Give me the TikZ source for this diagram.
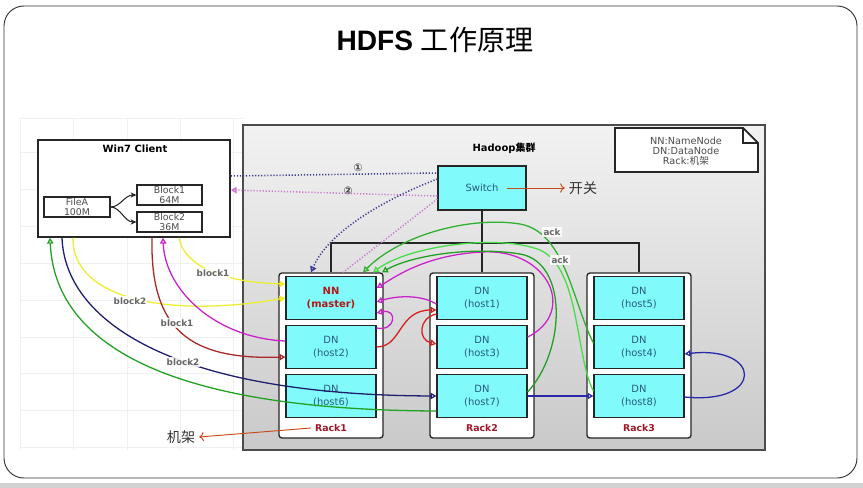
\documentclass[tikz,border=0pt]{standalone}
\usepackage{fontspec}
\setmainfont{DejaVu Sans}
\newfontfamily\cjk{Noto Sans CJK SC}
\newfontfamily\arialfont{Liberation Sans}
\usetikzlibrary{arrows.meta,calc}
\definecolor{cyanfill}{HTML}{80FAFA}
\definecolor{dntext}{HTML}{2A5C80}
\definecolor{nntext}{HTML}{B01818}
\definecolor{racktext}{HTML}{A01828}
\definecolor{cnavydot}{HTML}{3A3A90}
\definecolor{cpinkdot}{HTML}{CC77CC}
\definecolor{cyellow}{HTML}{EEEE30}
\definecolor{cmag}{HTML}{CC22CC}
\definecolor{cdred}{HTML}{A82828}
\definecolor{cred}{HTML}{D62020}
\definecolor{cnavy}{HTML}{1E1E6E}
\definecolor{cblue}{HTML}{2828A8}
\definecolor{cdgreen}{HTML}{22A022}
\definecolor{clgreen}{HTML}{48DD48}
\definecolor{cmgreen}{HTML}{30B030}
\definecolor{corange}{HTML}{C84A1A}
\begin{document}
\begin{tikzpicture}[x=0.03cm,y=-0.03cm,
  cbox/.style={draw=black!85, line width=1.1pt, fill=cyanfill, minimum width=2.7cm, minimum height=1.29cm, inner sep=0pt, align=center, font=\fontsize{8.5}{10.5}\selectfont, text=dntext},
  rackbox/.style={draw=black!85, line width=1.1pt, fill=white, rounded corners=2.5pt, minimum width=3.12cm, minimum height=4.95cm, inner sep=0pt},
  racklabel/.style={font=\bfseries\fontsize{8}{9}\selectfont, text=racktext},
  wbox/.style={draw=black!85, line width=0.9pt, fill=white, inner sep=0pt, align=center, font=\fontsize{8}{8.8}\selectfont, text=black!70},
  lbl/.style={font=\bfseries\fontsize{7.5}{9}\selectfont, text=black!60, fill=white, fill opacity=0.85, text opacity=1, inner sep=1pt},
  numlbl/.style={font=\bfseries\fontsize{9}{9}\selectfont, text=black!75, inner sep=1pt},
  opentri/.style={-{Triangle[open,length=5pt,width=5.5pt]}},
  filltri/.style={-{Triangle[length=5pt,width=5.5pt]}},
  conn/.style={line width=1.1pt},
  dotl/.style={line width=1.3pt, dash pattern=on 1pt off 1.6pt},
  cjkbig/.style={font=\cjk\fontsize{12}{14}\selectfont, text=black!80},
  orarrow/.style={corange, line width=0.8pt, -{To[length=4pt,width=8pt]}}
]
\useasboundingbox (0,0) rectangle (863,488);
\fill[white] (0,0) rectangle (863,488);
\fill[gray!35] (0,483) rectangle (863,488);
\draw[black!80, line width=0.8pt, rounded corners=17pt, fill=white] (4,6) rectangle (857,478);
% faint grid
\foreach \gx in {20,73,127,180,233} \draw[black!6, line width=0.6pt] (\gx,118) -- (\gx,450);
\foreach \gy in {118,152,189,226,263,300,337,373,410,447} \draw[black!6, line width=0.6pt] (20,\gy) -- (243,\gy);
% title
\node[font=\fontsize{24}{28}\selectfont] (title) at (435,40) {\arialfont\bfseries HDFS\ {\mdseries\cjk 工作原理}};
% cluster
\node[draw=black!70, line width=1.2pt, top color=gray!10, bottom color=gray!42, minimum width=15.66cm, minimum height=9.75cm, inner sep=0pt] (hadoop) at (504,287.5) {};
\node[font=\bfseries\fontsize{8.5}{10}\selectfont] (hlabel) at (504,148) {Hadoop{\cjk 集群}};
% legend note
\draw[black!85, line width=1.5pt, fill=white] (615,128) -- (743,128) -- (758,143) -- (758,172) -- (615,172) -- cycle;
\draw[black!85, line width=1pt] (743,128) -- (743,143) -- (758,143);
\node[align=center, font=\fontsize{8.3}{8.6}\selectfont, text=black!70] (legend) at (686,151) {NN:NameNode\\DN:DataNode\\Rack:{\cjk 机架}};
% client
\node[draw=black!85, line width=1.3pt, fill=white, minimum width=5.76cm, minimum height=2.91cm, inner sep=0pt] (client) at (134,188.5) {};
\node[font=\bfseries\fontsize{8.5}{10}\selectfont] (ctitle) at (135,149) {Win7 Client};
\node[wbox, minimum width=1.98cm, minimum height=0.6cm] (filea) at (77,207) {FileA\\100M};
\node[wbox, minimum width=1.95cm, minimum height=0.6cm] (b1) at (169.5,195) {Block1\\64M};
\node[wbox, minimum width=1.95cm, minimum height=0.6cm] (b2) at (169.5,222) {Block2\\36M};
\draw[black!85, line width=0.9pt, -{Stealth[length=5pt,width=4.5pt]}] (filea.east) .. controls +(10,0) and +(-12,0) .. (b1.west);
\draw[black!85, line width=0.9pt, -{Stealth[length=5pt,width=4.5pt]}] (filea.east) .. controls +(10,0) and +(-12,0) .. (b2.west);
% switch
\node[cbox, minimum width=2.64cm, minimum height=1.32cm] (sw) at (482,188) {Switch};
\node[cjkbig] (kg) at (583,188) {开关};
\draw[orarrow] ($(sw.center)+(25,0)$) -- (kg.west);
% racks
\node[rackbox] (r1) at (331,355.5) {};
\node[rackbox] (r2) at (482,355.5) {};
\node[rackbox] (r3) at (639,355.5) {};
\node[racklabel] (r1lbl) at (331,428) {Rack1};
\node[racklabel] (r2lbl) at (482,428) {Rack2};
\node[racklabel] (r3lbl) at (639,428) {Rack3};
\node[cjkbig] (jj) at (181,437) {机架};
\draw[orarrow] (r1lbl.west) -- (jj.east);
% tree
\coordinate (hub) at (482,243);
\draw[black!85, line width=1pt] (sw.south) -- (r2.north);
\draw[black!85, line width=1pt] (r1.north) |- (hub) -| (r3.north);
% data nodes
\node[cbox, text=nntext, font=\bfseries\fontsize{8.5}{10.5}\selectfont] (nn) at (331,298) {NN\\(master)};
\node[cbox] (host2) at (331,347) {DN\\(host2)};
\node[cbox] (host6) at (331,396) {DN\\(host6)};
\node[cbox] (host1) at (482,298) {DN\\(host1)};
\node[cbox] (host3) at (482,347) {DN\\(host3)};
\node[cbox] (host7) at (482,396) {DN\\(host7)};
\node[cbox] (host5) at (639,298) {DN\\(host5)};
\node[cbox] (host4) at (639,347) {DN\\(host4)};
\node[cbox] (host8) at (639,396) {DN\\(host8)};
% dotted lines 1 and 2
\draw[dotl, cnavydot] (client.east |- 0,176) -- (sw.west |- 0,173);
\node[numlbl] (n1) at (358,168) {①};
\draw[dotl, cpinkdot, opentri] (sw.west |- 0,196) -- (client.east |- 0,190);
\node[numlbl] (n2) at (348,191) {②};
\draw[dotl, cnavydot, opentri] (sw.west |- 0,179) .. controls (395,195) and (330,228) .. (r1.north -| 311,0);
\draw[dotl, cpinkdot] (sw.west |- 0,199) -- (r1.north -| 343,0);
% client <-> cluster
\draw[conn, cyellow, filltri] (client.south -| 179,0) .. controls (183,262) and (215,282) .. (nn.west |- 0,284);
\draw[conn, cyellow, filltri] (client.south -| 73,0) .. controls (72,300) and (170,318) .. (nn.west |- 0,298);
\draw[conn, cmag, opentri] (host2.west |- 0,341) .. controls (215,338) and (165,290) .. (client.south -| 163,0);
\draw[conn, cdred, opentri] (client.south -| 152,0) .. controls (150,330) and (190,360) .. (host2.west |- 0,357);
\draw[conn, cnavy, opentri] (client.south -| 62,0) .. controls (65,320) and (170,395) .. (host7.west |- 0,396);
\draw[conn, cdgreen, opentri] (host7.west |- 0,411) .. controls (180,410) and (55,350) .. (client.south -| 50,0);
\node[lbl] (lb1) at (213,273) {block1};
\node[lbl] (lb2) at (130,301) {block2};
\node[lbl] (lb3) at (177,323) {block1};
\node[lbl] (lb4) at (183,362) {block2};
% inside cluster
\draw[conn, cmag, opentri] (host1.west |- 0,304) .. controls (420,294) and (395,296) .. (nn.east |- 0,302);
\draw[conn, cmag, opentri] (host3.east |- 0,337) .. controls (578,312) and (548,248) .. (482,252) .. controls (425,255) and (395,277) .. (nn.east |- 0,288);
\draw[conn, cmag, opentri] (host2.east |- 0,328) .. controls (396,332) and (398,308) .. (nn.east |- 0,313);
\draw[conn, cred, opentri] (host2.east |- 0,347) .. controls (402,347) and (398,310) .. (host1.west |- 0,310);
\draw[conn, cred, opentri] (host1.west |- 0,314) .. controls (418,318) and (418,340) .. (host3.west |- 0,344);
\draw[conn, cblue, opentri] (host7.east |- 0,396) -- (host8.west |- 0,396);
\draw[conn, cblue, opentri] (host8.east |- 0,397) .. controls (765,405) and (762,345) .. (host4.east |- 0,354);
% ack lines
\draw[conn, cmgreen, opentri] (host4.west |- 0,343) .. controls (572,300) and (565,232) .. (520,224) .. controls (470,216) and (400,235) .. (r1.north -| 363,0);
\draw[conn, clgreen, opentri] (host8.west |- 0,391) .. controls (575,355) and (580,268) .. (540,250) .. controls (500,234) and (410,245) .. (r1.north -| 373,0);
\draw[conn, cdgreen, opentri] (host7.east |- 0,392) .. controls (566,350) and (568,262) .. (520,254) .. controls (470,246) and (410,256) .. (r1.north -| 382,0);
\node[lbl] (ack1) at (552,232) {ack};
\node[lbl] (ack2) at (560,260) {ack};
\end{tikzpicture}
\end{document}
